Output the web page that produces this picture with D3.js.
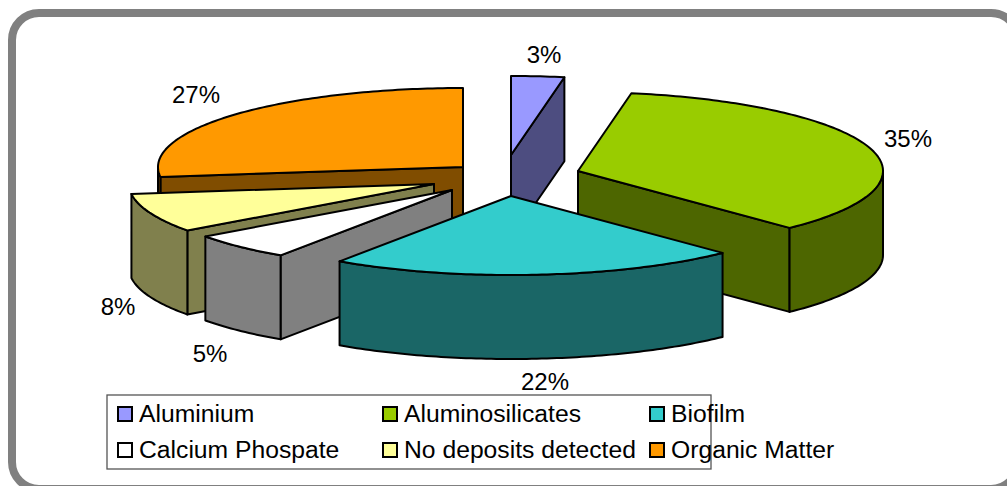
<!DOCTYPE html>
<html><head><meta charset="utf-8">
<script src="https://cdn.jsdelivr.net/npm/d3@7/dist/d3.min.js"></script>
<style>html,body{margin:0;padding:0;background:#fff;overflow:hidden}svg{display:block}text{font-family:"Liberation Sans",Arial,sans-serif;fill:#000}</style>
</head><body><svg id="c" width="1007" height="486"></svg>
<script>
const categories = ["Aluminium","Aluminosilicates","Biofilm","Calcium Phospate","No deposits detected","Organic Matter"];
const values = [2.8,35,21.7,5.49,8.0,27.01];
const colors = ["#9999FF","#99CC00","#33CCCC","#FFFFFF","#FFFF99","#FF9900"];

// layout, separate from the data
const rx = 305, ry = 79, depth = 84;
const explodedCentres = [[511,155],[578,171],[511,196],[452,190],[434,184],[463,167]];
const labelPos = [[544,63],[908,147],[545,390],[210,362],[118,315],[196,103]];
const paintOrder = [5,0,1,4,3,2];
const legendCols = [118,383,650], legendRows = [407,443];

const svg = d3.select("#c");
svg.append("rect").attr("x",12).attr("y",13).attr("width",1006).attr("height",476).attr("rx",27)
  .attr("fill","#fff").attr("stroke","#808080").attr("stroke-width",8);

const arcs = d3.pie().sort(null).value(d=>d)(values);
const line = d3.line();
const HALF = Math.PI/2;
function pt(c,a,z){return [c[0]+rx*Math.sin(a), c[1]-ry*Math.cos(a)+z];}
function arcPts(c,a0,a1,z){
  const n = Math.max(2,Math.ceil((a1-a0)*60));
  return d3.range(n+1).map(i=>pt(c,a0+(a1-a0)*i/n,z));
}
const g = svg.append("g").attr("stroke","#000").attr("stroke-width",2).attr("stroke-linejoin","round");
paintOrder.forEach(i=>{
  const s = arcs[i], c = explodedCentres[i], a0=s.startAngle, a1=s.endAngle;
  const side = d3.color(colors[i]); side.r=Math.round(side.r/2); side.g=Math.round(side.g/2); side.b=Math.round(side.b/2);
  const bottomApex=[c[0],c[1]+depth];
  // inner radial walls that face the viewer
  if(Math.sin(a1)>0 && a1<Math.PI+0.01){
    g.append("path").attr("fill",side.formatHex())
     .attr("d",line([c,pt(c,a1,0),pt(c,a1,depth),bottomApex])+"Z");
  }
  if(Math.sin(a0)<0){
    g.append("path").attr("fill",side.formatHex())
     .attr("d",line([c,pt(c,a0,0),pt(c,a0,depth),bottomApex])+"Z");
  }
  // outer rim: only the near half of the ellipse shows
  const r0=Math.max(a0,HALF), r1=Math.min(a1,3*HALF);
  if(r1>r0){
    const top=arcPts(c,r0,r1,0), bot=arcPts(c,r0,r1,depth).reverse();
    g.append("path").attr("fill",side.formatHex()).attr("d",line(top.concat(bot))+"Z");
  }
  // top face
  g.append("path").attr("fill",colors[i]).attr("d",line([c].concat(arcPts(c,a0,a1,0)))+"Z");
});

// percent labels
svg.append("g").selectAll("text").data(values).join("text")
  .attr("x",(d,i)=>labelPos[i][0]).attr("y",(d,i)=>labelPos[i][1])
  .attr("text-anchor","middle").attr("font-size",24)
  .text(d=>Math.round(d)+"%");

// legend
svg.append("rect").attr("x",107).attr("y",395).attr("width",604).attr("height",74)
  .attr("fill","#fff").attr("stroke","#555").attr("stroke-width",1.3);
const items = svg.append("g").selectAll("g").data(categories).join("g")
  .attr("transform",(d,i)=>`translate(${legendCols[i%3]},${legendRows[Math.floor(i/3)]})`);
items.append("rect").attr("width",14).attr("height",14).attr("fill",(d,i)=>colors[i])
  .attr("stroke","#000").attr("stroke-width",2);
items.append("text").attr("x",21).attr("y",14.5).attr("font-size",24.7).text(d=>d);
</script></body></html>
